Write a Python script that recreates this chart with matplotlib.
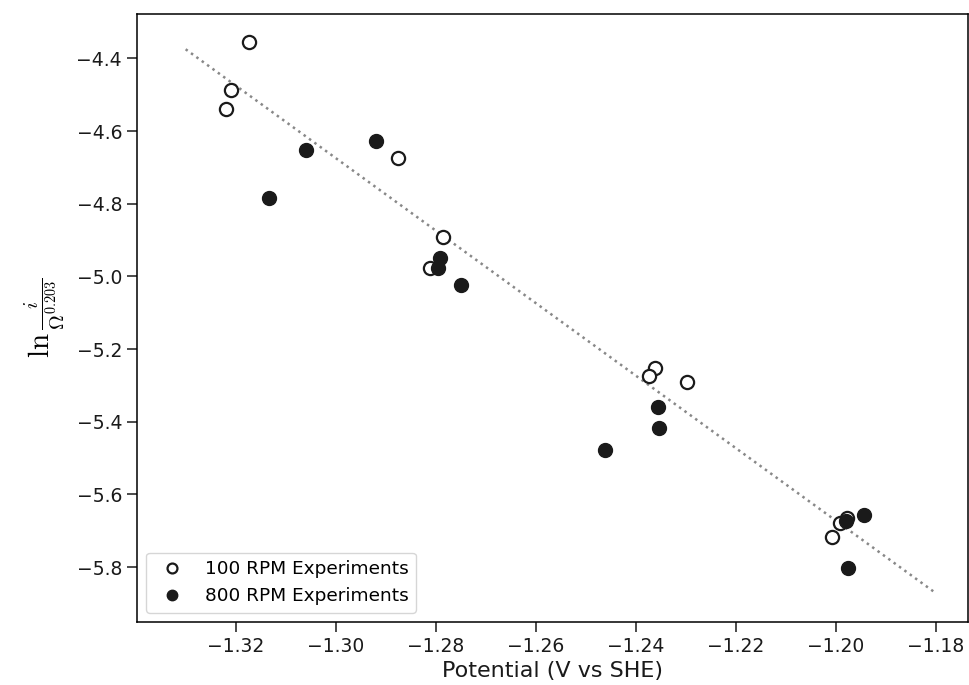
import matplotlib
matplotlib.use("Agg")
import matplotlib.pyplot as plt
import numpy as np

# 100 RPM experiments (hollow)
pot_100 = [-1.3174, -1.3210, -1.3220, -1.2876, -1.2786, -1.2812, -1.2362, -1.2374, -1.2298, -1.2008, -1.1992, -1.1978]
val_100 = [-4.356, -4.488, -4.540, -4.675, -4.892, -4.977, -5.253, -5.274, -5.291, -5.717, -5.679, -5.665]

# 800 RPM experiments (filled)
pot_800 = [-1.3060, -1.3134, -1.2920, -1.2792, -1.2796, -1.2750, -1.2462, -1.2356, -1.2354, -1.1944, -1.1980, -1.1976]
val_800 = [-4.651, -4.785, -4.627, -4.950, -4.978, -5.025, -5.478, -5.360, -5.418, -5.657, -5.673, -5.802]

# fit line
fit_x = [-1.33, -1.18]
fit_y = [-4.375, -5.872]

plt.rcParams['mathtext.fontset'] = 'cm'
fig, ax = plt.subplots(figsize=(9.69, 6.85), dpi=100)
fig.subplots_adjust(left=0.141, right=0.999, top=0.979, bottom=0.092)

ax.plot(fit_x, fit_y, linestyle=':', color='#888888', linewidth=1.8)
ax.plot(pot_100, val_100, 'o', markersize=9.5, markerfacecolor='white',
        markeredgecolor='#1a1a1a', markeredgewidth=1.6, linestyle='none', label='100 RPM Experiments')
ax.plot(pot_800, val_800, 'o', markersize=10, markerfacecolor='#1a1a1a',
        markeredgecolor='#1a1a1a', linestyle='none', label='800 RPM Experiments')

ax.set_xlim(-1.3398, -1.1736)
ax.set_ylim(-5.951, -4.279)
ax.set_xticks(np.arange(-1.32, -1.179, 0.02))
ax.set_yticks(np.arange(-5.8, -4.39, 0.2))
ax.tick_params(axis='both', labelsize=13.5, length=7, width=1.1, colors='#1a1a1a')
ax.set_xlabel('Potential (V vs SHE)', fontsize=16, color='#1a1a1a')
ax.set_ylabel(r'$\ln\frac{i}{\Omega^{0.203}}$', fontsize=21, labelpad=7)
for s in ax.spines.values():
    s.set_linewidth(1.1)
ax.legend(loc='lower left', fontsize=13.3, handletextpad=0.8, borderaxespad=0.5,
          markerscale=0.75)

fig.savefig('out.png', dpi=100)
